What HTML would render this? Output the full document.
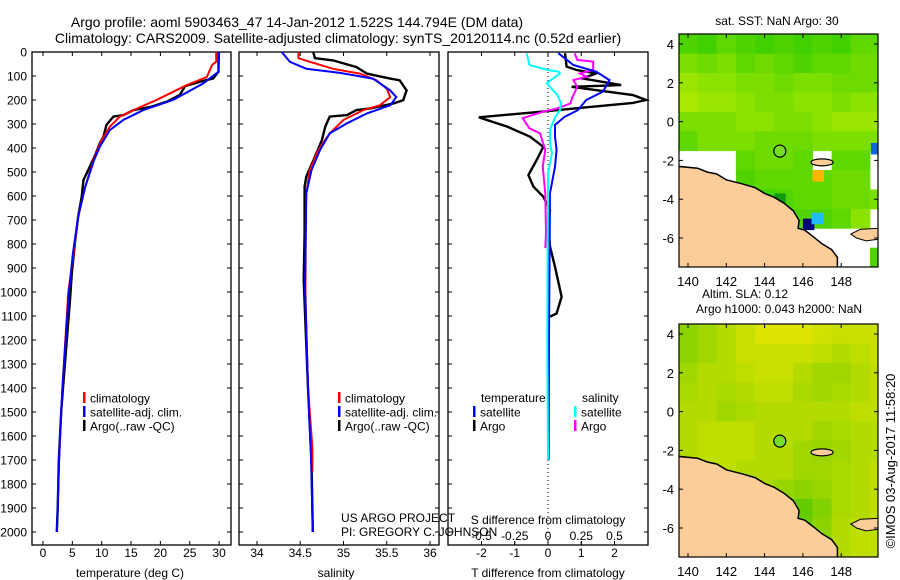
<!DOCTYPE html>
<html><head><meta charset="utf-8"><style>
html,body{margin:0;padding:0;background:#fff;}
svg{display:block;font-family:"Liberation Sans",Arial,sans-serif;}
</style></head><body>
<svg id="fig" width="900" height="580" viewBox="0 0 900 580" xmlns="http://www.w3.org/2000/svg">
<text x="297" y="27" font-size="14" text-anchor="middle">Argo profile: aoml 5903463_47 14-Jan-2012 1.522S 144.794E (DM data)</text>
<text x="338" y="43" font-size="14" text-anchor="middle">Climatology: CARS2009. Satellite-adjusted climatology: synTS_20120114.nc (0.52d earlier)</text>
<g id="p1"></g>
<g id="p2"></g>
<g id="p3"></g>
<g id="m1"></g>
<g id="m2"></g>
<text x="0" y="0" font-size="13" text-anchor="middle" transform="translate(895,461) rotate(-90)">©IMOS 03-Aug-2017 11:58:20</text>
</svg>
<script>
// ---------- profile data ----------
const argoTdep=[0,82,110,124,142,179,207,228,242,263,269,304,353,380,429,492,533,603,686,783,922,1033,1400,1500,1600,1700,1800,1900,2000];
const argoT=[29.9,29.9,29.0,26.7,24.2,23.3,21.1,18.5,15.4,13.7,12.0,10.8,10.3,9.7,8.9,7.7,6.9,6.6,6.0,5.5,4.9,4.6,3.4,3.1,2.9,2.7,2.6,2.5,2.35];
const climTdep=[0,40,54,104,138,199,242,269,311,367,450,561,686,839,1006,1400,1700];
const climT=[29.5,29.5,28.8,27.9,24.5,19.4,15.4,13.1,11.4,10.0,8.6,7.2,6.0,5.2,4.3,3.3,2.75];
const satTdep=[0,82,131,199,242,283,325,394,450,561,686,839,1006,1400,1500,1600,1700,1800,1900,2000];
const satT=[30.0,29.9,27.3,22.2,17.1,13.7,11.4,9.7,8.7,7.2,6.0,5.1,4.4,3.3,3.1,2.9,2.75,2.6,2.5,2.35];
const argoSdep=[0,26,35,63,90,111,118,160,201,214,235,242,263,269,311,367,436,519,561,756,950,1400,1700,2000];
const argoS=[34.65,34.67,34.88,35.15,35.27,35.54,35.65,35.73,35.69,35.58,35.31,35.15,35.04,34.84,34.79,34.75,34.67,34.57,34.55,34.55,34.54,34.59,34.63,34.645];
const climSdep=[0,26,41,70,90,118,153,188,222,242,283,339,408,492,589,672,1000,1400,1650,1750];
const climS=[34.48,34.48,34.61,34.88,35.19,35.38,35.50,35.54,35.42,35.23,35.0,34.84,34.71,34.61,34.57,34.565,34.56,34.59,34.64,34.64];
const satSdep=[0,41,70,87,111,160,188,222,256,297,339,408,492,589,978,1400,1700,2000];
const satS=[34.285,34.38,34.57,34.96,35.34,35.54,35.61,35.54,35.27,35.04,34.84,34.73,34.63,34.57,34.555,34.59,34.625,34.645];
const dTargoDep=[5,61,75,89,110,138,145,179,200,212,233,249,272,311,353,395,450,513,561,603,658,728,811,895,1020,1089,1103];
const dTargo=[0.51,0.56,0.86,1.45,1.04,2.2,0.71,2.55,2.95,2.55,0.96,-0.24,-2.08,-1.23,-0.54,-0.14,-0.34,-0.59,-0.44,-0.14,0.06,0.01,0.06,0.21,0.41,0.26,0.06];
const dTsatDep=[5,54,82,117,165,200,242,270,304,353,408,478,588,1200,1700];
const dTsat=[0.31,0.76,1.45,1.85,1.65,1.15,0.9,0.5,0.21,0.21,0.26,0.21,0.06,0.03,0.02];
const dSargoDep=[5,33,40,75,89,103,117,145,193,214,235,249,276,318,339,408,478,589,754,817];
const dSargo=[0.2,0.22,0.34,0.34,0.24,0.29,0.19,0.22,0.18,0.17,0.07,-0.04,-0.19,-0.14,-0.06,-0.02,-0.04,-0.02,-0.015,-0.02];
const dSsatDep=[5,54,75,82,89,130,179,214,242,276,325,380,422,504,1200,1700];
const dSsat=[-0.16,-0.14,0.0,0.08,0.09,-0.01,0.07,0.10,0.09,0.05,0.015,0.015,0.03,0,-0.005,0];
const depthTicks=[0,100,200,300,400,500,600,700,800,900,1000,1100,1200,1300,1400,1500,1600,1700,1800,1900,2000];
const tempTicks=[0,5,10,15,20,25,30];
const salTicks=[34,34.5,35,35.5,36];
const dTTicks=[-2,-1,0,1,2];
const dSTicks=[-0.5,-0.25,0,0.25,0.5];
const dSTickLabels=["-0.5","-0.25","0","0.25","0.5"];
// ---------- map data (rows lat 4..-7, cols lon 140..150, 1-degree cells; 0=green 1=yellow) ----------
const mapLats=[4,3,2,1,0,-1,-2,-3,-4,-5,-6,-7];
const mapLons=[140,141,142,143,144,145,146,147,148,149,150];
const sst=[
[0.2,0.1,0.3,0.2,0.1,0.2,0.1,0.2,0.1,0.3,0.3],
[0.5,0.4,0.5,0.3,0.4,0.3,0.2,0.3,0.3,0.4,0.4],
[0.7,0.6,0.6,0.5,0.5,0.4,0.5,0.5,0.4,0.4,0.4],
[0.8,0.7,0.7,0.6,0.5,0.5,0.6,0.6,0.5,0.6,0.6],
[0.5,0.5,0.5,0.6,0.6,0.5,0.5,0.6,0.7,0.7,0.7],
[0.3,0.5,0.5,0.5,0.4,0.4,0.4,0.5,0.5,0.5,0.5],
[null,null,null,0.3,0.4,0.4,0.3,null,0.3,0.3,null],
[null,null,null,0.2,0.3,0.3,0.3,0.3,0.4,0.4,null],
[null,null,null,null,0.1,0.2,0.3,0.3,0.4,0.4,0.5],
[null,null,null,null,null,null,0.2,0.2,0.3,0.6,null],
[null,null,null,null,null,null,null,null,null,null,null],
[null,null,null,null,null,null,null,null,null,null,0.2]];
const sstSpecial=[[146.8,-2.8,"#ffb400"],[146.3,-5.3,"#000080"],[146.75,-5.0,"#22bbff"],[144.8,-4.0,"#119911"],[149.85,-1.4,"#1166dd"]];
const sla=[
[0.5,0.6,0.7,0.8,0.9,0.9,0.9,0.85,0.8,0.8,0.8],
[0.5,0.6,0.7,0.8,0.8,0.8,0.8,0.75,0.7,0.75,0.8],
[0.6,0.7,0.7,0.75,0.8,0.8,0.7,0.6,0.6,0.7,0.75],
[0.65,0.7,0.65,0.7,0.75,0.75,0.65,0.6,0.65,0.7,0.75],
[0.7,0.7,0.6,0.65,0.7,0.7,0.7,0.7,0.7,0.75,0.75],
[0.7,0.75,0.75,0.75,0.7,0.7,0.7,0.6,0.65,0.7,0.7],
[0.7,0.75,0.75,0.75,0.7,0.7,0.6,0.55,0.6,0.7,0.7],
[0.7,0.75,0.75,0.7,0.7,0.7,0.6,0.6,0.65,0.7,0.75],
[0.7,0.7,0.7,0.7,0.65,0.55,0.5,0.55,0.65,0.7,0.75],
[0.7,0.7,0.7,0.7,0.6,0.4,0.3,0.45,0.65,0.7,0.75],
[0.7,0.7,0.7,0.7,0.6,0.4,0.35,0.5,0.7,0.75,0.75],
[0.7,0.7,0.7,0.7,0.6,0.3,0.25,0.3,0.7,0.75,0.75]];
const coast=[[139.4,-2.3],[140.5,-2.4],[141,-2.6],[141.5,-2.7],[142,-3.0],[142.8,-3.2],[143.5,-3.4],[144,-3.7],[144.5,-3.9],[145,-4.2],[145.5,-4.6],[145.8,-5.1],[145.75,-5.5],[146.1,-5.6],[146.5,-5.9],[147,-6.3],[147.5,-6.6],[147.8,-7.0],[147.8,-7.6],[139.4,-7.6]];
const newBritain=[[148.5,-5.8],[149,-5.55],[150,-5.5],[150,-6.05],[149.3,-6.15],[148.8,-6.0]];
const argoPos=[144.794,-1.522];
const latTicks=[4,2,0,-2,-4,-6];
const lonTicks=[140,142,144,146,148];

const NS="http://www.w3.org/2000/svg";
function mk(parent,tag,attrs){const e=document.createElementNS(NS,tag);for(const k in attrs)e.setAttribute(k,attrs[k]);parent.appendChild(e);return e;}
function txt(parent,x,y,s,size,anchor){const t=mk(parent,'text',{x:x,y:y,'font-size':size,'text-anchor':anchor||'start'});t.textContent=s;return t;}

const Y0=52, YK=0.24, PB=545;
function yD(d){return Y0+d*YK;}

function panel(g,x0,x1){
  const r=mk(g,'rect',{x:x0,y:Y0,width:x1-x0,height:PB-Y0,fill:'none',stroke:'#000','stroke-width':1.3});
  
  
  depthTicks.forEach(d=>{
    const t1=mk(g,'line',{x1:x0,x2:x0+4,y1:yD(d),y2:yD(d),stroke:'#000'});
    
    
    const t2=mk(g,'line',{x1:x1-4,x2:x1,y1:yD(d),y2:yD(d),stroke:'#000'});
    
    
  });
}
function series(g,deps,vals,xf,color,w,name){
  const pts=deps.map((d,i)=>xf(vals[i]).toFixed(1)+','+yD(d).toFixed(1)).join(' ');
  const p=mk(g,'polyline',{points:pts,fill:'none',stroke:color,'stroke-width':w,'stroke-linejoin':'miter'});
  
  
}
function xticks(g,ticks,labels,xf,yTop,yLab,tickDown){
  ticks.forEach((v,i)=>{
    const x=xf(v);
    const t=mk(g,'line',{x1:x,x2:x,y1:yTop,y2:yTop+(tickDown?4:-4),stroke:'#000'});
    
    
    if(yLab!==null){const l=txt(g,x,yLab,labels[i],12,'middle');
      
      }
  });
}
function legend(g,x,y,color,label){
  const m=mk(g,'rect',{x:x,y:y-6,width:2.5,height:11,fill:color});
  
  
  const t=txt(g,x+7,y+4.5,label,12);
  
  
}

// Panel 1: temperature
const p1=document.getElementById('p1');
const xT=v=>43+v*5.87;
panel(p1,32,231);
depthTicks.forEach(d=>{const l=txt(p1,27,yD(d)+4.5,String(d),12,'end');
  
  });
xticks(p1,tempTicks,tempTicks.map(String),xT,Y0,null,true);
xticks(p1,tempTicks,tempTicks.map(String),xT,PB,557,false);
series(p1,argoTdep,argoT,xT,'#000',2.4,'argo-temperature-line');
series(p1,climTdep,climT,xT,'#f00',2,'climatology-temperature-line');
series(p1,satTdep,satT,xT,'#00f',2,'satellite-temperature-line');
legend(p1,83,398,'#f00','climatology');
legend(p1,83,412,'#00f','satellite-adj. clim.');
legend(p1,83,426,'#000','Argo(..raw -QC)');
{const l=txt(p1,130,577,'temperature (deg C)',12,'middle');}

// Panel 2: salinity
const p2=document.getElementById('p2');
const xS=v=>257+(v-34)*86.5;
panel(p2,239,439);
xticks(p2,salTicks,salTicks.map(String),xS,Y0,null,true);
xticks(p2,salTicks,salTicks.map(String),xS,PB,557,false);
series(p2,argoSdep,argoS,xS,'#000',2.4,'argo-salinity-line');
series(p2,climSdep,climS,xS,'#f00',2,'climatology-salinity-line');
series(p2,satSdep,satS,xS,'#00f',2,'satellite-salinity-line');
legend(p2,338,398,'#f00','climatology');
legend(p2,338,412,'#00f','satellite-adj. clim.');
legend(p2,338,426,'#000','Argo(..raw -QC)');
{const l=txt(p2,336,577,'salinity',12,'middle');}
{const l=txt(p2,341,522,'US ARGO PROJECT',12);}
{const l=txt(p2,341,536,'PI: GREGORY C. JOHNSON',12);}

// Panel 3: differences
const p3=document.getElementById('p3');
const xdT=v=>548+v*33.25;
const xdS=v=>548+v*133;
panel(p3,448,648);
{const z=mk(p3,'line',{x1:548,x2:548,y1:Y0,y2:PB,stroke:'#000','stroke-dasharray':'1,3'});}
xticks(p3,dTTicks,dTTicks.map(String),xdT,Y0,null,true);
xticks(p3,dSTicks,dSTickLabels,xdS,PB,540,false);
xticks(p3,dTTicks,dTTicks.map(String),xdT,PB,557,false);
series(p3,dTargoDep,dTargo,xdT,'#000',2.4,'argo-temperature-difference-line');
series(p3,dSargoDep,dSargo,xdS,'#f0f',2,'argo-salinity-difference-line');
series(p3,dTsatDep,dTsat,xdT,'#00f',2,'satellite-temperature-difference-line');
series(p3,dSsatDep,dSsat,xdS,'#0ff',2,'satellite-salinity-difference-line');
{const l=txt(p3,481,402,'temperature',12);}
{const l=txt(p3,582,402,'salinity',12);}
legend(p3,473,412,'#00f','satellite');
legend(p3,473,426,'#000','Argo');
legend(p3,574,412,'#0ff','satellite');
legend(p3,574,426,'#f0f','Argo');
{const l=txt(p3,548,524,'S difference from climatology',12,'middle');}
{const l=txt(p3,548,577,'T difference from climatology',12,'middle');}

// Maps
function lerp(a,b,t){return Math.round(a+(b-a)*t);}
function colSST(v){
  const c0=[50,205,0],c1=[200,240,0];
  return 'rgb('+lerp(c0[0],c1[0],v)+','+lerp(c0[1],c1[1],v)+','+lerp(c0[2],c1[2],v)+')';
}
function colSLA(v){
  const c0=[40,190,0],c1=[240,232,0];
  return 'rgb('+lerp(c0[0],c1[0],v)+','+lerp(c0[1],c1[1],v)+','+lerp(c0[2],c1[2],v)+')';
}
function drawMap(id,oy,data,cf,title1,title2,special){
  const g=document.getElementById(id);
  const X0=679,X1=878,Yt=34+oy,Yb=267+oy;
  const lx=lon=>688+(lon-140)*19.15;
  const ly=lat=>Yt+10+ (4-lat)*19.4;
  const cid='clip'+id;
  const cp=mk(mk(g,'defs',{}),'clipPath',{id:cid});
  mk(cp,'rect',{x:X0,y:Yt,width:X1-X0,height:Yb-Yt});
  const inner=mk(g,'g',{'clip-path':'url(#'+cid+')'});
  mk(inner,'rect',{x:X0,y:Yt,width:X1-X0,height:Yb-Yt,fill:'#fff'});
  data.forEach((row,i)=>row.forEach((v,j)=>{
    if(v===null)return;
    const c=mk(inner,'rect',{x:lx(mapLons[j]-0.5),y:ly(mapLats[i]+0.5),width:19.6,height:19.8,fill:cf(v)});
    
    
  }));
  (special||[]).forEach(s=>{
    const c=mk(inner,'rect',{x:lx(s[0]-0.3),y:ly(s[1]+0.3),width:11.5,height:11.5,fill:s[2]});
    
    
  });
  const land=mk(inner,'polygon',{points:coast.map(p=>lx(p[0]).toFixed(1)+','+ly(p[1]).toFixed(1)).join(' '),fill:'#fccc99',stroke:'#000','stroke-width':1.5});
  
  
  const nb=mk(inner,'polygon',{points:newBritain.map(p=>lx(p[0]).toFixed(1)+','+ly(p[1]).toFixed(1)).join(' '),fill:'#fccc99',stroke:'#000','stroke-width':1});
  
  
  const mn=mk(inner,'ellipse',{cx:lx(147),cy:ly(-2.1),rx:11,ry:3.5,fill:'#fccc99',stroke:'#000','stroke-width':1.2});
  
  
  const ap=mk(inner,'circle',{cx:lx(argoPos[0]),cy:ly(argoPos[1]),r:6,fill:'#77dd22',stroke:'#000','stroke-width':1.2});
  
  
  const fr=mk(g,'rect',{x:X0,y:Yt,width:X1-X0,height:Yb-Yt,fill:'none',stroke:'#000','stroke-width':1.2});
  
  
  latTicks.forEach(l=>{
    const y=ly(l);
    mk(g,'line',{x1:X0,x2:X0+4,y1:y,y2:y,stroke:'#000'});
    mk(g,'line',{x1:X1-4,x2:X1,y1:y,y2:y,stroke:'#000'});
    const t=txt(g,674,y+5,String(l),13,'end');
    
    
  });
  lonTicks.forEach(l=>{
    const x=lx(l);
    mk(g,'line',{x1:x,x2:x,y1:Yt,y2:Yt+4,stroke:'#000'});
    mk(g,'line',{x1:x,x2:x,y1:Yb-4,y2:Yb,stroke:'#000'});
    const t=txt(g,x,Yb+19,String(l),13,'middle');
    
    
  });
  if(title2){
    const a=txt(g,745,oy+8,title1,12,'middle');
    const b=txt(g,779,oy+23,title2,12,'middle');
  } else {
    const a=txt(g,777,oy+25,title1,12,'middle');
  }
}
drawMap('m1',0,sst,colSST,'sat. SST: NaN Argo: 30',null,sstSpecial);
drawMap('m2',290,sla,colSLA,'Altim. SLA: 0.12','Argo h1000: 0.043 h2000: NaN',[]);
</script>
</body></html>
